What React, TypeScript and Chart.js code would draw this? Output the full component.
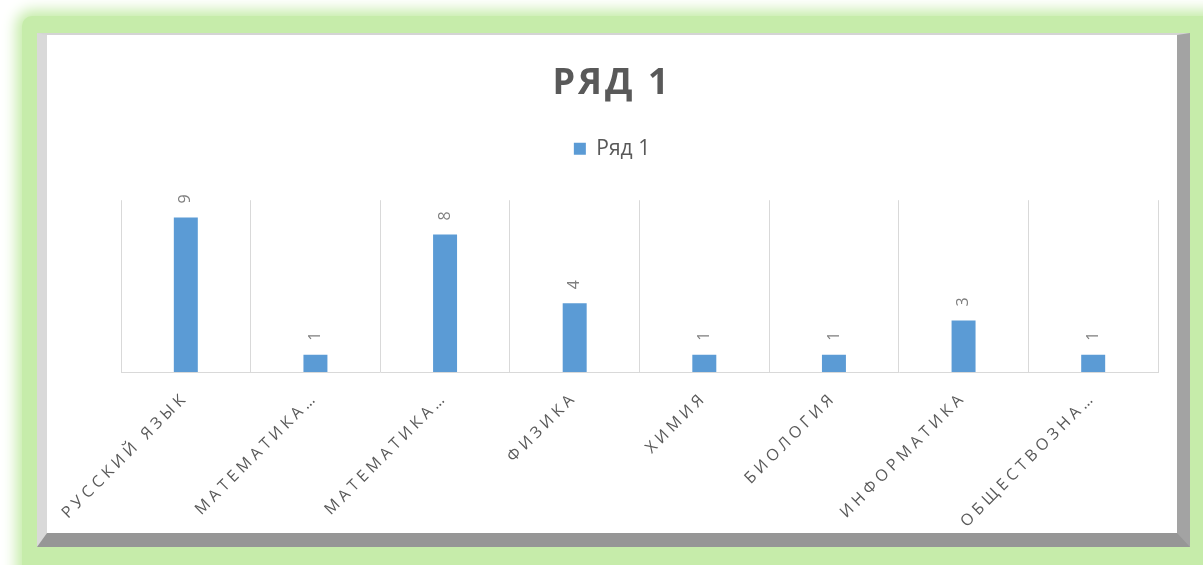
import React, { useEffect, useRef } from "react";
import { Chart, registerables } from "chart.js";

Chart.register(...registerables);

// ---- data ----
const categories = [
  "РУССКИЙ ЯЗЫК",
  "МАТЕМАТИКА…",
  "МАТЕМАТИКА…",
  "ФИЗИКА",
  "ХИМИЯ",
  "БИОЛОГИЯ",
  "ИНФОРМАТИКА",
  "ОБЩЕСТВОЗНА…",
];
const seriesName = "Ряд 1";
const seriesValues = [9, 1, 8, 4, 1, 1, 3, 1];
const chartTitle = "РЯД 1";
const yMin = 0;
const yMax = 10;

const FONT = "'Open Sans', 'Noto Sans', sans-serif";
const GREEN = "#c6ecaa";

function withSpacing(obj: any, method: string, px: string) {
  if (!obj || obj["__sp_" + method]) return;
  const orig = obj[method];
  obj[method] = function (...args: any[]) {
    const ctx = this.ctx as any;
    const prev = ctx.letterSpacing;
    ctx.letterSpacing = px;
    try {
      return orig.apply(this, args);
    } finally {
      ctx.letterSpacing = prev;
    }
  };
  obj["__sp_" + method] = true;
}

const spacingPlugin = {
  id: "spacing",
  beforeDraw(chart: any) {
    withSpacing(chart.scales.x, "drawLabels", "4.2px");
    withSpacing(chart.titleBlock, "draw", "3px");
  },
};

const barLabelPlugin = {
  id: "barLabels",
  afterDatasetsDraw(chart: any) {
    const ctx = chart.ctx;
    const meta = chart.getDatasetMeta(0);
    const data = chart.data.datasets[0].data;
    ctx.save();
    ctx.font = `16px ${FONT}`;
    ctx.fillStyle = "#7f7f7f";
    ctx.textAlign = "left";
    ctx.textBaseline = "middle";
    meta.data.forEach((el: any, i: number) => {
      const { x, y } = el.getProps(["x", "y"], true);
      ctx.save();
      ctx.translate(x, y - 14);
      ctx.rotate(-Math.PI / 2);
      ctx.fillText(String(data[i]), 0, 0);
      ctx.restore();
    });
    ctx.restore();
  },
};

function BarChart() {
  const ref = useRef<HTMLCanvasElement | null>(null);
  useEffect(() => {
    if (!ref.current) return;
    const chart = new Chart(ref.current, {
      type: "bar",
      data: {
        labels: categories,
        datasets: [
          {
            label: seriesName,
            data: seriesValues,
            backgroundColor: "#5b9bd5",
            borderWidth: 0,
            categoryPercentage: 1,
            barPercentage: 0.185,
          },
        ],
      },
      options: {
        responsive: false,
        animation: false,
        layout: { padding: 0 },
        plugins: {
          tooltip: { enabled: false },
          title: {
            display: true,
            text: chartTitle,
            color: "#595959",
            font: { family: FONT, size: 36, weight: "bold" },
            padding: { top: 27, bottom: 23 },
          },
          legend: {
            display: true,
            position: "top",
            labels: {
              boxWidth: 12,
              boxHeight: 12,
              color: "#595959",
              font: { family: FONT, size: 21 },
              padding: 10,
            },
          },
        },
        scales: {
          x: {
            type: "category",
            position: "bottom",
            grid: { color: "#d9d9d9", drawTicks: false, offset: true },
            border: { display: true, color: "#d9d9d9" },
            ticks: {
              autoSkip: false,
              minRotation: 45,
              maxRotation: 45,
              padding: 16,
              color: "#595959",
              font: { family: FONT, size: 16 },
            },
            afterFit: (s: any) => {
              s.height = 161;
            },
          },
          xTop: {
            type: "category",
            position: "top",
            display: true,
            grid: { display: false },
            border: { display: false },
            ticks: { display: false },
            afterFit: (s: any) => {
              s.height = 31;
            },
          },
          y: {
            min: yMin,
            max: yMax,
            position: "left",
            display: true,
            grid: { display: false },
            border: { display: false },
            ticks: { display: false },
            afterFit: (s: any) => {
              s.width = 74;
            },
          },
          yRight: {
            type: "linear",
            position: "right",
            display: true,
            grid: { display: false },
            border: { display: false },
            ticks: { display: false },
            afterFit: (s: any) => {
              s.width = 19;
            },
          },
        },
      } as any,
      plugins: [spacingPlugin, barLabelPlugin],
    });
    return () => chart.destroy();
  }, []);
  return <canvas ref={ref} width={1130} height={498} style={{ display: "block", width: 1130, height: 498 }} />;
}

export default function App() {
  return (
    <div
      style={{
        position: "fixed",
        left: 0,
        top: 0,
        width: 1203,
        height: 565,
        overflow: "hidden",
        background: "#ffffff",
      }}
    >
      <div
        style={{
          position: "absolute",
          left: 22,
          top: 16,
          width: 1240,
          height: 600,
          background: GREEN,
          boxShadow: `0 0 14px 6px ${GREEN}`,
          borderRadius: 10,
        }}
      />
      <div
        style={{
          position: "absolute",
          left: 37,
          top: 33,
          width: 1153,
          height: 514,
          boxSizing: "border-box",
          background: "#ffffff",
          borderLeft: "10px solid #d9d9d9",
          borderTop: "2px solid #d4d4d4",
          borderRight: "13px solid #a3a3a3",
          borderBottom: "14px solid #969696",
        }}
      >
        <BarChart />
      </div>
    </div>
  );
}
